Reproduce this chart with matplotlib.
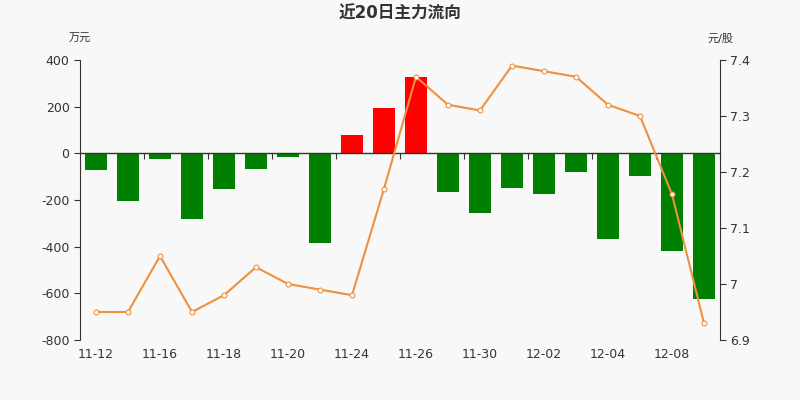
import matplotlib.pyplot as plt
import numpy as np

plt.rcParams['font.family'] = ['DejaVu Sans', 'Noto Sans CJK SC']
plt.rcParams['axes.unicode_minus'] = False

dates = ['11-12', '11-13', '11-16', '11-17', '11-18', '11-19', '11-20', '11-23', '11-24', '11-25',
         '11-26', '11-27', '11-30', '12-01', '12-02', '12-03', '12-04', '12-07', '12-08', '12-09']
flow = [-70, -205, -23, -282, -152, -69, -16, -383, 80, 195,
        326, -167, -256, -149, -173, -79, -366, -99, -419, -626]
price = [6.95, 6.95, 7.05, 6.95, 6.98, 7.03, 7.00, 6.99, 6.98, 7.17,
         7.37, 7.32, 7.31, 7.39, 7.38, 7.37, 7.32, 7.30, 7.16, 6.93]

bg = '#f8f8f8'
fig = plt.figure(figsize=(8, 4), dpi=100, facecolor=bg)
ax = fig.add_axes([0.1, 0.15, 0.8, 0.7], facecolor=bg)

x = np.arange(len(dates))
colors = ['#ff0000' if v > 0 else '#008000' for v in flow]
ax.bar(x, flow, width=0.69, color=colors, zorder=2)
ax.set_xlim(-0.5, len(dates) - 0.5)
ax.set_ylim(-800, 400)
ax.set_yticks([-800, -600, -400, -200, 0, 200, 400])
ax.tick_params(axis='y', labelsize=9, colors='#333333', length=4)

# category labels at every other bar, no tick marks on bottom
ax.set_xticks(x[::2])
ax.set_xticklabels(dates[::2])
ax.tick_params(axis='x', length=0, labelsize=9, colors='#333333', pad=6)
for s in ['top', 'right', 'bottom']:
    ax.spines[s].set_visible(False)
ax.spines['left'].set_color('#333333')

# zero line with boundary ticks
zero = (0 - (-800)) / 1200
sec = ax.secondary_xaxis(zero)
sec.set_xticks(np.arange(-0.5, len(dates), 2)[1:])
sec.tick_params(axis='x', direction='out', length=4, labelbottom=False, labeltop=False,
                top=False, bottom=True, color='#333333')
sec.spines['bottom'].set_color('#333333')
sec.spines['top'].set_visible(False)
ax.axhline(0, color='#333333', lw=1, zorder=3)

ax2 = ax.twinx()
ax2.plot(x, price, color='#ee9040', lw=1.5, marker='o', markersize=3.5,
         markerfacecolor='white', markeredgecolor='#ee9040', markeredgewidth=0.8, zorder=4)
ax2.set_ylim(6.9, 7.4)
ax2.set_yticks([6.9, 7.0, 7.1, 7.2, 7.3, 7.4])
ax2.set_yticklabels(['6.9', '7', '7.1', '7.2', '7.3', '7.4'])
ax2.tick_params(axis='y', labelsize=9, colors='#333333', length=4)
for s in ['top', 'left', 'bottom']:
    ax2.spines[s].set_visible(False)
ax2.spines['right'].set_color('#333333')

fig.text(0.5, 0.965, '近20日主力流向', ha='center', va='center', fontsize=12,
         fontweight='bold', color='#333333')
fig.text(0.1, 0.903, '万元', ha='center', va='center', fontsize=8, color='#333333')
fig.text(0.9, 0.903, '元/股', ha='center', va='center', fontsize=8, color='#333333')

fig.savefig('out.png', dpi=100, facecolor=bg)
